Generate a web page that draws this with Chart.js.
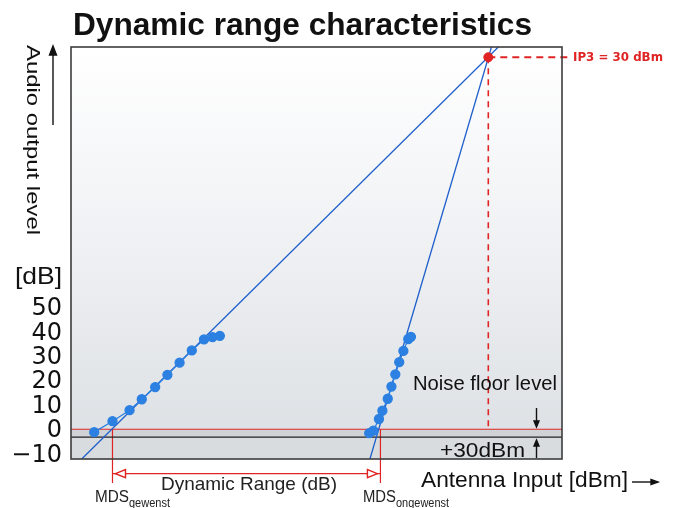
<!DOCTYPE html>
<html>
<head>
<meta charset="utf-8">
<script src="https://cdn.jsdelivr.net/npm/chart.js@4.4.1/dist/chart.umd.min.js"></script>
<style>
  html, body { margin: 0; padding: 0; background: #fff; }
  canvas { display: block; }
</style>
</head>
<body>
<canvas id="drChart" width="677" height="508"></canvas>
<script>
// axis ranges (x: antenna input dBm, y: audio output dB)
const xRange = [-141, 60.2];
const yRange = [-11.5, 157.4];
const yTicks = [-10, 0, 10, 20, 30, 40, 50];

// measured fundamental (wanted) signal
const wantedX = [-131.5, -124, -117, -112, -106.5, -101.5, -96.5, -91.5, -86.5, -83, -80];
const wantedY = [-0.5, 4, 8.5, 13, 18, 23, 28, 33, 37.5, 38.5, 39];

// measured 3rd order (unwanted) product
const imdX = [-18.8, -17.1, -14.8, -13.4, -11.2, -9.7, -8.1, -6.5, -4.8, -2.8, -1.7];
const imdY = [-0.9, 0.1, 4.9, 8.3, 13.2, 18.2, 23.2, 28.2, 32.8, 37.7, 38.6];

// extrapolated straight lines
const fundLineX = [-136.6, 34.1];
const fundLineY = [-11.5, 157.4];
const imdLineX = [-18.5, 31.3];
const imdLineY = [-11.5, 157.4];

// reference levels
const ip3In = 30;
const ip3Out = 153.2;
const ip3LabelEnd = 63.5;
const noiseFloor = 0.7;
const floorLine = -2.5;
const mdsWanted = -124;
const mdsUnwanted = -14.2;
const mdsBottom = -21.3;
const rangeArrowY = -17.5;

const pts = (xs, ys) => xs.map((x, i) => ({ x: x, y: ys[i] }));

const BLUE_LINE = '#1f5fcc';
const BLUE_DOT = '#2b80e2';
const RED = '#e02424';

function fitText(ctx, txt, x, y, w, font, color) {
  ctx.save();
  ctx.font = font;
  ctx.fillStyle = color;
  ctx.textBaseline = 'middle';
  ctx.textAlign = 'left';
  const m = ctx.measureText(txt).width;
  ctx.translate(x, y);
  ctx.scale(w / m, 1);
  ctx.fillText(txt, 0, 0);
  ctx.restore();
}

function arrow(ctx, x1, y1, x2, y2, len, half, color, hollow) {
  const a = Math.atan2(y2 - y1, x2 - x1);
  ctx.save();
  ctx.strokeStyle = color;
  ctx.fillStyle = hollow ? '#ffffff' : color;
  ctx.lineWidth = 1.4;
  ctx.beginPath();
  ctx.moveTo(x1, y1);
  ctx.lineTo(x2 - Math.cos(a) * len * 0.6, y2 - Math.sin(a) * len * 0.6);
  ctx.stroke();
  ctx.beginPath();
  ctx.moveTo(x2, y2);
  ctx.lineTo(x2 - Math.cos(a) * len - Math.sin(a) * half, y2 - Math.sin(a) * len + Math.cos(a) * half);
  ctx.lineTo(x2 - Math.cos(a) * len + Math.sin(a) * half, y2 - Math.sin(a) * len - Math.cos(a) * half);
  ctx.closePath();
  ctx.fill();
  ctx.stroke();
  ctx.restore();
}

const backdrop = {
  id: 'backdrop',
  beforeDatasetsDraw(chart) {
    const { ctx, chartArea: a, scales } = chart;
    const g = ctx.createLinearGradient(0, a.top, 0, a.bottom);
    g.addColorStop(0, '#ffffff');
    g.addColorStop(0.35, '#f4f5f7');
    g.addColorStop(1, '#dbdfe3');
    ctx.save();
    ctx.fillStyle = g;
    ctx.fillRect(a.left, a.top, a.right - a.left, a.bottom - a.top);
    const yN = scales.y.getPixelForValue(noiseFloor);
    const yF = scales.y.getPixelForValue(floorLine);
    ctx.fillStyle = '#cfd3d6';
    ctx.fillRect(a.left, yN, a.right - a.left, yF - yN);
    ctx.fillStyle = '#d8dcdf';
    ctx.fillRect(a.left, yF, a.right - a.left, a.bottom - yF);
    ctx.restore();
  },
  afterDraw(chart) {
    const { ctx, chartArea: a, scales } = chart;
    ctx.save();
    ctx.strokeStyle = '#3c3c3c';
    ctx.lineWidth = 1.6;
    ctx.strokeRect(a.left, a.top, a.right - a.left, a.bottom - a.top);
    ctx.restore();

    // title
    fitText(ctx, 'Dynamic range characteristics', 73, 26, 459, 'bold 31px "Liberation Sans", Arial, sans-serif', '#111');

    // rotated y label
    ctx.save();
    ctx.translate(32, 45);
    ctx.rotate(Math.PI / 2);
    fitText(ctx, 'Audio output level', 0, 0, 190, '19px "Liberation Sans", Arial, sans-serif', '#111');
    ctx.restore();
    arrow(ctx, 53, 125, 53, 46, 9, 3.5, '#111', false);

    fitText(ctx, '[dB]', 15, 277, 47, '24px "Liberation Sans", Arial, sans-serif', '#111');

    // IP3 label
    fitText(ctx, 'IP3 = 30 dBm', 573, 58, 90, 'bold 12px "DejaVu Sans", sans-serif', RED);

    // noise floor annotations
    fitText(ctx, 'Noise floor level', 413, 384, 144, '20px "Liberation Sans", Arial, sans-serif', '#111');
    fitText(ctx, '+30dBm', 440, 451, 85, '21px "Liberation Sans", Arial, sans-serif', '#111');
    arrow(ctx, 536.5, 408, 536.5, 427, 6, 2.5, '#111', false);
    arrow(ctx, 536.5, 458, 536.5, 440, 6, 2.5, '#111', false);

    // x axis label
    fitText(ctx, 'Antenna Input [dBm]', 421, 481, 207, '22px "Liberation Sans", Arial, sans-serif', '#111');
    arrow(ctx, 632, 482, 658, 482, 7, 2.5, '#111', false);

    // dynamic range arrow heads
    const yA = scales.y.getPixelForValue(rangeArrowY);
    const xL = scales.x.getPixelForValue(mdsWanted);
    const xR = scales.x.getPixelForValue(mdsUnwanted);
    arrow(ctx, xL + 14, yA, xL + 3, yA, 10, 4, RED, true);
    arrow(ctx, xR - 14, yA, xR - 3, yA, 10, 4, RED, true);
    fitText(ctx, 'Dynamic Range (dB)', 161, 485, 176, '19px "Liberation Sans", Arial, sans-serif', '#222');

    // MDS labels with subscripts
    const f1 = '16px "Liberation Sans", Arial, sans-serif';
    const f2 = '12px "Liberation Sans", Arial, sans-serif';
    fitText(ctx, 'MDS', 95, 498, 34, f1, '#222');
    fitText(ctx, 'gewenst', 129, 504, 41, f2, '#222');
    fitText(ctx, 'MDS', 363, 498, 33, f1, '#222');
    fitText(ctx, 'ongewenst', 396, 504, 53, f2, '#222');
  }
};

const noPts = { pointRadius: 0, pointHoverRadius: 0 };

new Chart(document.getElementById('drChart'), {
  type: 'scatter',
  data: {
    datasets: [
      { data: pts([ip3In], [ip3Out]), pointRadius: 4.5, pointBackgroundColor: RED, pointBorderColor: RED, showLine: false },
      { data: pts(wantedX, wantedY), showLine: true, borderColor: BLUE_DOT, borderWidth: 1.3,
        pointRadius: 4.5, pointBackgroundColor: BLUE_DOT, pointBorderColor: BLUE_DOT },
      { data: pts(imdX, imdY), showLine: true, borderColor: BLUE_DOT, borderWidth: 1.3,
        pointRadius: 4.5, pointBackgroundColor: BLUE_DOT, pointBorderColor: BLUE_DOT },
      { data: pts(fundLineX, fundLineY), showLine: true, borderColor: BLUE_LINE, borderWidth: 1.3, ...noPts },
      { data: pts(imdLineX, imdLineY), showLine: true, borderColor: BLUE_LINE, borderWidth: 1.3, ...noPts },
      { data: pts([ip3In, ip3In], [ip3Out, noiseFloor]), showLine: true, borderColor: RED, borderWidth: 1.6, borderDash: [6, 5], ...noPts },
      { data: pts([ip3In, ip3LabelEnd], [ip3Out, ip3Out]), showLine: true, borderColor: RED, borderWidth: 1.8, borderDash: [7, 5], clip: false, ...noPts },
      { data: pts(xRange, [noiseFloor, noiseFloor]), showLine: true, borderColor: RED, borderWidth: 1.2, ...noPts },
      { data: pts(xRange, [floorLine, floorLine]), showLine: true, borderColor: '#222', borderWidth: 1.2, ...noPts },
      { data: pts([mdsWanted, mdsWanted], [noiseFloor, mdsBottom]), showLine: true, borderColor: RED, borderWidth: 1.2, clip: false, ...noPts },
      { data: pts([mdsUnwanted, mdsUnwanted], [noiseFloor, mdsBottom]), showLine: true, borderColor: RED, borderWidth: 1.2, clip: false, ...noPts },
      { data: pts([mdsWanted, mdsUnwanted], [rangeArrowY, rangeArrowY]), showLine: true, borderColor: RED, borderWidth: 1.2, clip: false, ...noPts }
    ]
  },
  options: {
    responsive: false,
    devicePixelRatio: 1,
    animation: false,
    layout: { padding: { left: 0, top: 47, right: 115, bottom: 49 } },
    plugins: { legend: { display: false }, tooltip: { enabled: false }, title: { display: false } },
    scales: {
      x: { type: 'linear', min: xRange[0], max: xRange[1], display: false },
      y: {
        type: 'linear', min: yRange[0], max: yRange[1],
        grid: { display: false, drawTicks: false },
        border: { display: false },
        afterFit(scale) { scale.width = 71; },
        afterBuildTicks(scale) { scale.ticks = yTicks.map(v => ({ value: v })); },
        ticks: {
          padding: 9,
          color: '#111',
          font: { family: '"DejaVu Sans", sans-serif', size: 24 },
          callback: v => (v < 0 ? '\u2212' + Math.abs(v) : String(v))
        }
      }
    }
  },
  plugins: [backdrop]
});
</script>
</body>
</html>
